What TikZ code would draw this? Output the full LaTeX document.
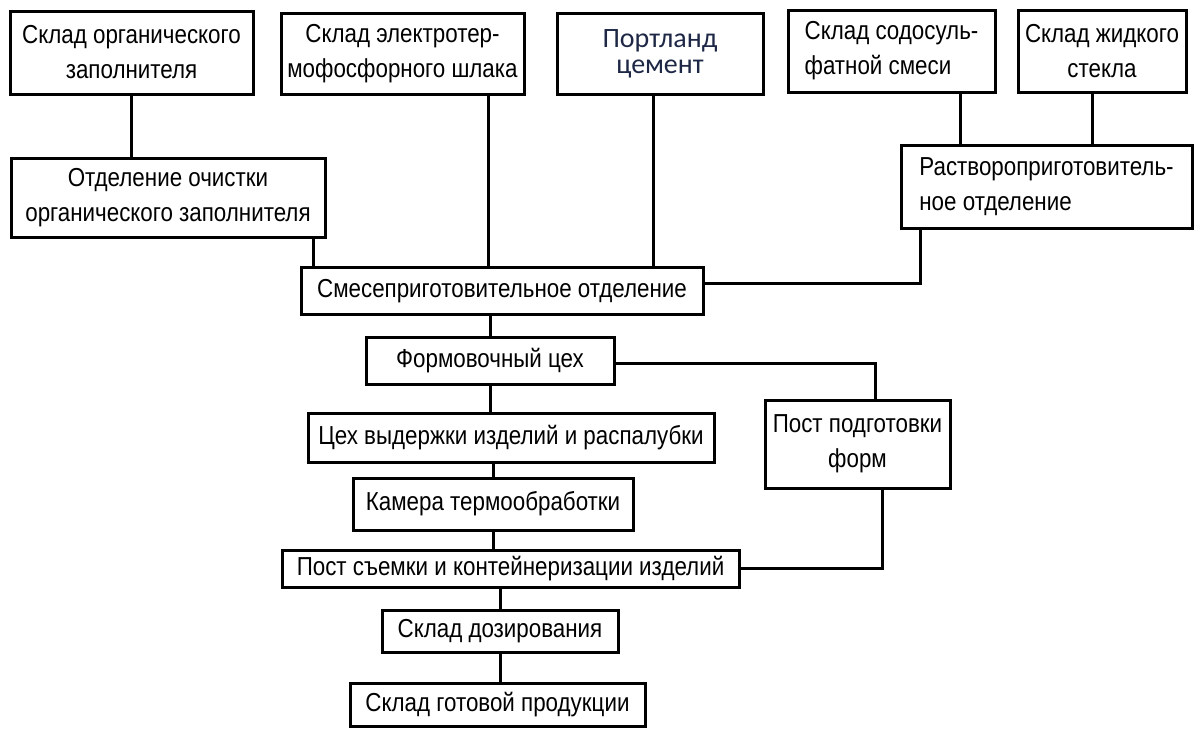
\documentclass[tikz,border=0pt]{standalone}
\usepackage{fontspec}
\setmainfont[FakeStretch=0.86]{Liberation Sans}
\newfontfamily\calib{Carlito}
\definecolor{navytext}{RGB}{30,40,70}
\begin{document}
\begin{tikzpicture}[x=1pt,y=-1pt,
  box/.style={draw=black, line width=3pt, inner sep=0pt, align=center, fill=white,
    font=\fontsize{26}{35}\selectfont},
  conn/.style={line width=3pt}]
\useasboundingbox[fill=white] (0,0) rectangle (1195,729);
% top row
\node[box, minimum width=243pt, minimum height=83pt] (b1) at (131.5,52.5) {Склад органического\\заполнителя};
\node[box, minimum width=243pt, minimum height=81pt] (b2) at (402.5,53.5) {Склад электротер-\\мофосфорного шлака};
\node[box, minimum width=206pt, minimum height=81pt, text=navytext,
  font=\calib\fontsize{28}{26}\selectfont] (b4) at (660,53.5) {Портланд\\цемент};
\node[box, minimum width=207pt, minimum height=82pt, align=left] (b5) at (891.5,51) {Склад содосуль-\\фатной смеси};
\node[box, minimum width=168pt, minimum height=82pt] (b6) at (1102,51) {Склад жидкого\\стекла};
% second row
\node[box, minimum width=314pt, minimum height=79pt] (b3) at (168,197.5) {Отделение очистки\\органического заполнителя};
\node[box, minimum width=291pt, minimum height=83pt, align=left] (b7) at (1046.5,186.5) {Растворопри­готовитель-\\ное отделение};
% main column
\node[box, minimum width=402pt, minimum height=47pt] (b8) at (502,291) {Смесеприготовительное отделение};
\node[box, minimum width=248pt, minimum height=47pt] (b9) at (490,360.5) {Формовочный цех};
\node[box, minimum width=406pt, minimum height=49pt] (b10) at (511,437.5) {Цех выдержки изделий и распалубки};
\node[box, minimum width=185pt, minimum height=88pt] (b11) at (857.5,444) {Пост подготовки\\форм};
\node[box, minimum width=280pt, minimum height=52pt] (b12) at (493,504) {Камера термообработки};
\node[box, minimum width=457pt, minimum height=37pt] (b13) at (510.5,568.5) {Пост съемки и контейнеризации изделий};
\node[box, minimum width=236pt, minimum height=42pt] (b14) at (500,631) {Склад дозирования};
\node[box, minimum width=295pt, minimum height=43pt] (b15) at (497.5,704.5) {Склад готовой продукции};
% connectors
\draw[conn] (b1.south) -- (b1.south |- b3.north);
\draw[conn] ([xshift=-13pt]b3.south east) -- ([xshift=-13pt]b3.south east |- b8.north);
\draw[conn] ([xshift=85.5pt]b2.south) -- ([xshift=85.5pt]b2.south |- b8.north);
\draw[conn] ([xshift=-7pt]b4.south) -- ([xshift=-7pt]b4.south |- b8.north);
\draw[conn] ([xshift=68.5pt]b5.south) -- ([xshift=68.5pt]b5.south |- b7.north);
\draw[conn] ([xshift=-10pt]b6.south) -- ([xshift=-10pt]b6.south |- b7.north);
\draw[conn] ([xshift=21pt]b7.south west) |- ([yshift=8pt]b8.east);
\draw[conn] (b9.north |- b8.south) -- (b9.north);
\draw[conn] (b9.south) -- (b9.south |- b10.north);
\draw[conn] ([yshift=-3pt]b9.east) -| ([xshift=17.5pt]b11.north);
\draw[conn] (b12.north |- b10.south) -- (b12.north);
\draw[conn] (b12.south) -- (b12.south |- b13.north);
\draw[conn] ([xshift=24.5pt]b11.south) |- (b13.east);
\draw[conn] (b14.north |- b13.south) -- (b14.north);
\draw[conn] (b14.south) -- (b14.south |- b15.north);
\end{tikzpicture}
\end{document}
